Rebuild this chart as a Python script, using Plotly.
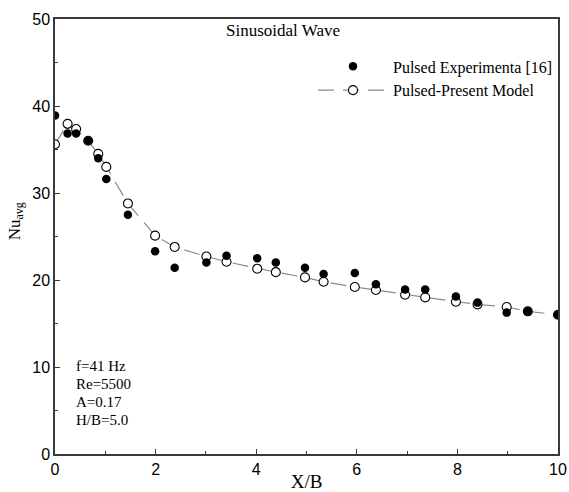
import plotly.graph_objects as go

# Nusselt number distribution along the plate, sinusoidal pulsed jet
exp_x = [0.0, 0.25, 0.42, 0.66, 0.86, 1.02, 1.45, 1.99, 2.38, 3.01, 3.41, 4.02,
         4.39, 4.97, 5.34, 5.96, 6.38, 6.96, 7.36, 7.97, 8.40, 8.98, 9.40, 10.0]
exp_nu = [38.9, 36.85, 36.85, 36.0, 34.0, 31.6, 27.5, 23.3, 21.4, 22.0, 22.8, 22.5,
          22.0, 21.4, 20.7, 20.8, 19.5, 18.9, 18.9, 18.1, 17.4, 16.25, 16.4, 16.0]

model_x = [0.0, 0.25, 0.42, 0.66, 0.86, 1.02, 1.45, 1.99, 2.38, 3.01, 3.41, 4.02,
           4.39, 4.97, 5.34, 5.96, 6.38, 6.96, 7.36, 7.97, 8.40, 8.98, 9.40, 10.0]
model_nu = [35.6, 37.95, 37.35, 36.0, 34.5, 33.0, 28.8, 25.1, 23.8, 22.7, 22.1, 21.3,
            20.9, 20.3, 19.8, 19.2, 18.85, 18.3, 18.0, 17.5, 17.2, 16.9, 16.4, 16.0]

params = ["f=41 Hz", "Re=5500", "A=0.17", "H/B=5.0"]
param_y = [10.1, 8.0, 5.95, 3.9]

SERIF = "Liberation Serif, Times New Roman, serif"
SANS = "Liberation Sans, Arial, sans-serif"

fig = go.Figure()

fig.add_trace(go.Scatter(
    x=model_x, y=model_nu, mode="lines+markers",
    name="Pulsed-Present Model",
    line=dict(color="#8a8a8a", width=1.2, dash="16px,9px"),
    marker=dict(symbol="circle", size=9, color="white",
                line=dict(color="black", width=1.1)),
))
fig.add_trace(go.Scatter(
    x=exp_x, y=exp_nu, mode="markers",
    name="Pulsed Experimenta [16]",
    marker=dict(symbol="circle", size=8.5, color="black"),
))

axis_common = dict(
    showline=True, linecolor="#3a3a3a", linewidth=1.5, mirror=True,
    ticks="inside", ticklen=5, tickcolor="#3a3a3a", tickwidth=1,
    showgrid=False, zeroline=False, automargin=False,
    tickfont=dict(family=SANS, size=16, color="black"),
)

fig.update_xaxes(
    range=[0, 10], tickvals=[0, 2, 4, 6, 8, 10],
    minor=dict(ticks="inside", ticklen=3, tickvals=[1, 3, 5, 7, 9], tickcolor="#3a3a3a"),
    title=dict(text="X/B", font=dict(family=SERIF, size=19, color="black"), standoff=2),
    **axis_common,
)
fig.update_yaxes(
    range=[0, 50], tickvals=[0, 10, 20, 30, 40, 50],
    minor=dict(ticks="inside", ticklen=3, tickvals=[5, 15, 25, 35, 45], tickcolor="#3a3a3a"),
    **axis_common,
)

annotations = [
    dict(text="Sinusoidal Wave", x=4.53, y=48.7, xref="x", yref="y",
         xanchor="center", yanchor="middle", showarrow=False,
         font=dict(family=SERIF, size=17, color="black")),
    dict(text="Nu<sub>avg</sub>", x=-0.0775, y=0.535, xref="paper", yref="paper",
         xanchor="center", yanchor="middle", textangle=-90, showarrow=False,
         font=dict(family=SERIF, size=17, color="black")),
]
for txt, yy in zip(params, param_y):
    annotations.append(dict(text=txt, x=0.37, y=yy, xref="x", yref="y",
                            xanchor="left", yanchor="middle", showarrow=False,
                            font=dict(family=SERIF, size=15, color="black")))

fig.update_layout(
    width=569, height=492,
    margin=dict(l=55, r=11, t=19, b=38),
    paper_bgcolor="white", plot_bgcolor="white",
    showlegend=True,
    legend=dict(
        x=1.0, y=0.93, xanchor="right", yanchor="top",
        bgcolor="rgba(0,0,0,0)", traceorder="reversed",
        font=dict(family=SERIF, size=16, color="black"),
        itemwidth=70, tracegroupgap=0,
    ),
    annotations=annotations,
)

fig.write_html("out.html")
